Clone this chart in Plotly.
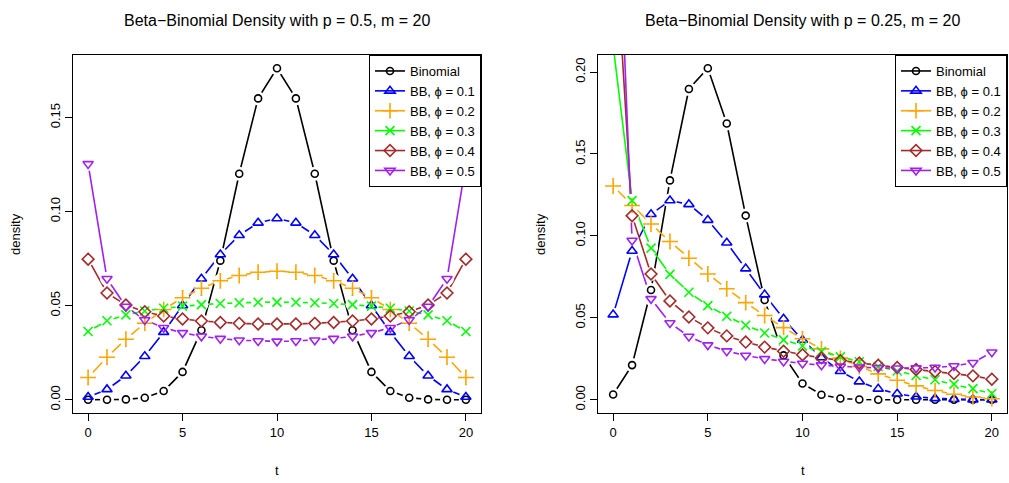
import plotly.graph_objects as go

# ---------------- data ----------------
t = list(range(21))

# p = 0.5, m = 20
binom_p05 = [0.000001, 0.000019, 0.000181, 0.001087, 0.004621, 0.014786, 0.036964, 0.073929, 0.120134, 0.160179, 0.176197,
             0.160179, 0.120134, 0.073929, 0.036964, 0.014786, 0.004621, 0.001087, 0.000181, 0.000019, 0.000001]
bb01_p05 = [0.001432, 0.005486, 0.012739, 0.023108, 0.035930, 0.050119, 0.064343, 0.077212, 0.087450, 0.094034, 0.096301,
            0.094034, 0.087450, 0.077212, 0.064343, 0.050119, 0.035930, 0.023108, 0.012739, 0.005486, 0.001432]
bb02_p05 = [0.011858, 0.022586, 0.032185, 0.040655, 0.047995, 0.054206, 0.059289, 0.063241, 0.066064, 0.067758, 0.068323,
            0.067758, 0.066064, 0.063241, 0.059289, 0.054206, 0.047995, 0.040655, 0.032185, 0.022586, 0.011858]
bb03_p05 = [0.036291, 0.041990, 0.045093, 0.047161, 0.048649, 0.049752, 0.050572, 0.051168, 0.051572, 0.051808, 0.051885,
            0.051808, 0.051572, 0.051168, 0.050572, 0.049752, 0.048649, 0.047161, 0.045093, 0.041990, 0.036291]
bb04_p05 = [0.074723, 0.056751, 0.050320, 0.046776, 0.044507, 0.042953, 0.041861, 0.041100, 0.040596, 0.040308, 0.040214,
            0.040308, 0.040596, 0.041100, 0.041861, 0.042953, 0.044507, 0.046776, 0.050320, 0.056751, 0.074723]
bb05_p05 = [0.125371, 0.064293, 0.049523, 0.042448, 0.038268, 0.035552, 0.033713, 0.032464, 0.031653, 0.031194, 0.031046,
            0.031194, 0.031653, 0.032464, 0.033713, 0.035552, 0.038268, 0.042448, 0.049523, 0.064293, 0.125371]

# p = 0.25, m = 20
binom_p025 = [0.003171, 0.021141, 0.066947, 0.133895, 0.189685, 0.202331, 0.168609, 0.112406, 0.060887, 0.027061, 0.009922,
              0.003007, 0.000752, 0.000154, 0.000026, 0.000003, 0.0000004, 0.0, 0.0, 0.0, 0.0]
bb01_p025 = [0.051950, 0.090786, 0.113254, 0.121599, 0.119260, 0.109665, 0.095791, 0.080028, 0.064156, 0.049397, 0.036495,
             0.025804, 0.017385, 0.011088, 0.006631, 0.003668, 0.001839, 0.000810, 0.000297, 0.000082, 0.000013]
bb02_p025 = [0.130435, 0.118577, 0.107284, 0.096556, 0.086392, 0.076793, 0.067758, 0.059289, 0.051383, 0.044043, 0.037267,
             0.031056, 0.025409, 0.020327, 0.015810, 0.011858, 0.008470, 0.005647, 0.003388, 0.001694, 0.000565]
bb03_p025 = [0.216110, 0.121507, 0.092540, 0.076500, 0.065636, 0.057472, 0.050934, 0.045467, 0.040748, 0.036575, 0.032814,
             0.029368, 0.026168, 0.023158, 0.020294, 0.017539, 0.014854, 0.012202, 0.009536, 0.006783, 0.003795]
bb04_p025 = [0.301458, 0.112345, 0.076732, 0.060327, 0.050530, 0.043871, 0.038976, 0.035182, 0.032124, 0.029585, 0.027425,
             0.025547, 0.023885, 0.022387, 0.021012, 0.019726, 0.018493, 0.017273, 0.016006, 0.014569, 0.012546]
bb05_p025 = [0.384088, 0.097237, 0.061584, 0.046838, 0.038624, 0.033352, 0.029678, 0.026980, 0.024930, 0.023338, 0.022090,
             0.021112, 0.020358, 0.019802, 0.019435, 0.019266, 0.019330, 0.019709, 0.020604, 0.022618, 0.029027]

series_names = ["Binomial", "BB, \u03d5 = 0.1", "BB, \u03d5 = 0.2", "BB, \u03d5 = 0.3", "BB, \u03d5 = 0.4", "BB, \u03d5 = 0.5"]
panel_titles = ["Beta\u2212Binomial Density with p = 0.5, m = 20",
                "Beta\u2212Binomial Density with p = 0.25, m = 20"]
x_ticks = [0, 5, 10, 15, 20]
y_ticks_left = [0.00, 0.05, 0.10, 0.15]
y_ticks_right = [0.00, 0.05, 0.10, 0.15, 0.20]

# ---------------- styles ----------------
colors = ["#000000", "#0000ff", "#ffa500", "#00ff00", "#a52a2a", "#a020f0"]
symbols = ["circle-open", "triangle-up-open", "cross-thin-open", "x-thin-open", "diamond-open", "triangle-down-open"]
msizes = [7, 9, 11, 9, 9, 9]
LW = 1.6
HALO = 14   # white gap around each point (R type = "b")

FONT = "Liberation Sans, Arial, Helvetica, sans-serif"
W, H = 1009, 483

fig = go.Figure()

panels = [
    ([binom_p05, bb01_p05, bb02_p05, bb03_p05, bb04_p05, bb05_p05], "x", "y", "legend"),
    ([binom_p025, bb01_p025, bb02_p025, bb03_p025, bb04_p025, bb05_p025], "x2", "y2", "legend2"),
]

# 1) lines (with markers, for the legend)
for vals, xa, ya, lg in panels:
    for i, v in enumerate(vals):
        fig.add_trace(go.Scatter(
            x=t, y=v, mode="lines+markers", name=series_names[i],
            xaxis=xa, yaxis=ya, legend=lg,
            line=dict(color=colors[i], width=LW),
            marker=dict(symbol=symbols[i], size=msizes[i], color=colors[i],
                        line=dict(color=colors[i], width=LW)),
        ))
# 2) white halos that cut the lines around each point
for vals, xa, ya, lg in panels:
    for i, v in enumerate(vals):
        fig.add_trace(go.Scatter(
            x=t, y=v, mode="markers", showlegend=False, hoverinfo="skip",
            xaxis=xa, yaxis=ya,
            marker=dict(symbol="circle", size=HALO, color="white", line=dict(width=0)),
        ))
# 3) the point symbols on top
for vals, xa, ya, lg in panels:
    for i, v in enumerate(vals):
        fig.add_trace(go.Scatter(
            x=t, y=v, mode="markers", showlegend=False, name=series_names[i],
            xaxis=xa, yaxis=ya,
            marker=dict(symbol=symbols[i], size=msizes[i], color=colors[i],
                        line=dict(color=colors[i], width=LW)),
        ))


def px_x(p):
    return p / W


def px_y(p):
    return 1 - p / H


left_dom = [px_x(73), px_x(481)]
right_dom = [px_x(598), px_x(1007)]
ydom = [px_y(413), px_y(55)]

axis_common = dict(showline=True, mirror=True, linecolor="black", linewidth=1,
                   ticks="outside", ticklen=7, tickcolor="black", showgrid=False,
                   zeroline=False, tickfont=dict(family=FONT, size=13, color="black"))

ymax_l = max(binom_p05)
ymax_r = max(binom_p025)

legend_common = dict(yanchor="top", xanchor="right", bgcolor="white", bordercolor="black", borderwidth=1,
                     font=dict(family=FONT, size=13, color="black"), tracegroupgap=0, itemwidth=30)

fig.update_layout(
    width=W, height=H, margin=dict(l=0, r=0, t=0, b=0),
    paper_bgcolor="white", plot_bgcolor="white",
    font=dict(family=FONT, color="black"),
    xaxis=dict(domain=left_dom, range=[-0.8, 20.8], tickvals=x_ticks, anchor="y", **axis_common),
    yaxis=dict(domain=ydom, range=[-0.04 * ymax_l, 1.04 * ymax_l], tickvals=y_ticks_left,
               ticktext=["%.2f" % v for v in y_ticks_left], tickangle=-90, anchor="x", **axis_common),
    xaxis2=dict(domain=right_dom, range=[-0.8, 20.8], tickvals=x_ticks, anchor="y2", **axis_common),
    yaxis2=dict(domain=ydom, range=[-0.04 * ymax_r, 1.04 * ymax_r], tickvals=y_ticks_right,
                ticktext=["%.2f" % v for v in y_ticks_right], tickangle=-90, anchor="x2", **axis_common),
    legend=dict(x=left_dom[1], y=ydom[1], **legend_common),
    legend2=dict(x=right_dom[1], y=ydom[1], **legend_common),
    showlegend=True,
)

annotations = []
for dom, title in zip([left_dom, right_dom], panel_titles):
    cx = (dom[0] + dom[1]) / 2
    annotations.append(dict(x=cx, y=px_y(20), xref="paper", yref="paper", text=title, showarrow=False,
                            font=dict(family=FONT, size=16), xanchor="center", yanchor="middle"))
    annotations.append(dict(x=cx, y=px_y(470), xref="paper", yref="paper", text="t", showarrow=False,
                            font=dict(family=FONT, size=13), xanchor="center", yanchor="middle"))
for xp in (15, 540):
    annotations.append(dict(x=px_x(xp), y=(ydom[0] + ydom[1]) / 2, xref="paper", yref="paper", text="density",
                            showarrow=False, textangle=-90, font=dict(family=FONT, size=13),
                            xanchor="center", yanchor="middle"))
fig.update_layout(annotations=annotations)

fig.write_html("out.html")
